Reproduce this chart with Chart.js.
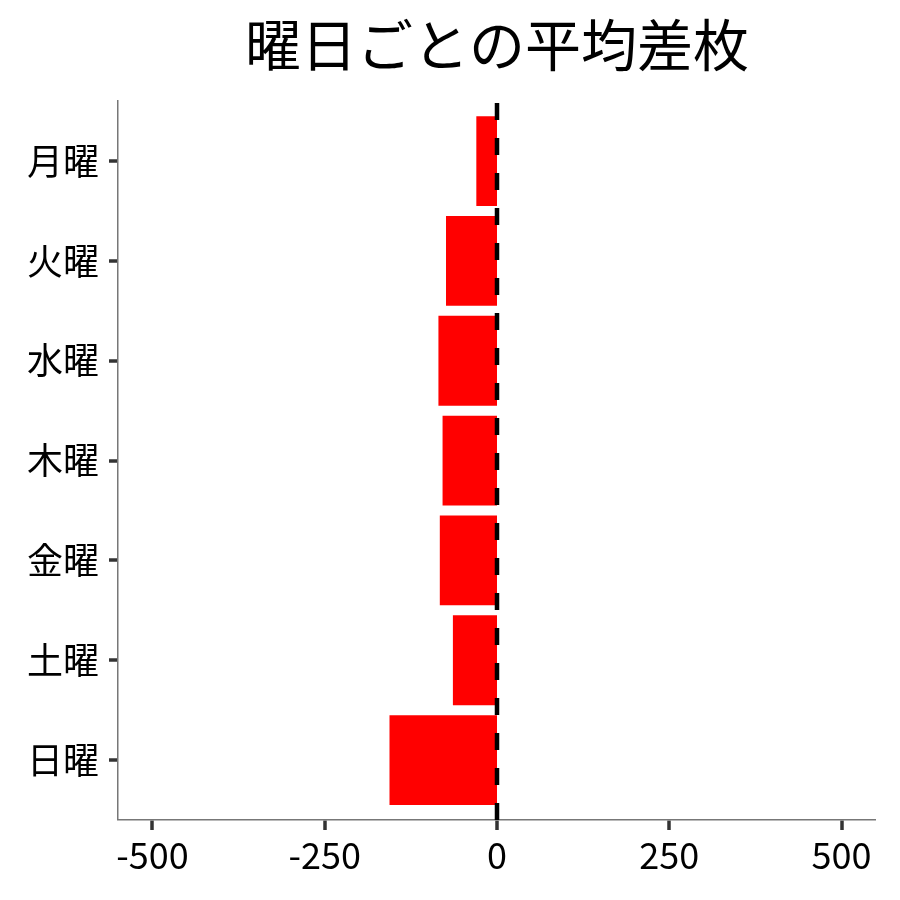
<!DOCTYPE html>
<html>
<head>
<meta charset="utf-8">
<script src="https://cdn.jsdelivr.net/npm/chart.js@4/dist/chart.umd.min.js"></script>
<style>
  html, body { margin: 0; padding: 0; background: #fff; }
  #wrap { width: 900px; height: 900px; }
</style>
</head>
<body>
<div id="wrap"><canvas id="chart" width="900" height="900"></canvas></div>
<script>
// データ
const days = ["月曜", "火曜", "水曜", "木曜", "金曜", "土曜", "日曜"];
const avgDiff = [-30, -74, -85, -79, -83, -64, -156];
const xTicks = [-500, -250, 0, 250, 500];

const FONT = "'Noto Sans CJK JP', 'Noto Sans', sans-serif";

// 0 の位置に破線を描く
const zeroLine = {
  id: "zeroLine",
  afterDatasetsDraw(chart) {
    const { ctx, chartArea, scales } = chart;
    const x = scales.x.getPixelForValue(0);
    ctx.save();
    ctx.strokeStyle = "#000";
    ctx.lineWidth = 4.5;
    ctx.setLineDash([17, 18]);
    ctx.beginPath();
    ctx.moveTo(x, chartArea.bottom);
    ctx.lineTo(x, chartArea.top);
    ctx.stroke();
    ctx.restore();
  }
};

new Chart(document.getElementById("chart"), {
  type: "bar",
  data: {
    datasets: [{
      data: avgDiff.map((v, i) => ({ x: v, y: i })),
      backgroundColor: "#ff0000",
      borderWidth: 0,
      barPercentage: 0.9,
      categoryPercentage: 1.0
    }]
  },
  options: {
    indexAxis: "y",
    responsive: false,
    animation: false,
    layout: { padding: { left: 0, right: 24, top: 0, bottom: 0 } },
    plugins: {
      legend: { display: false },
      tooltip: { enabled: false },
      title: {
        display: true,
        fullSize: false,
        text: "曜日ごとの平均差枚",
        color: "#000",
        font: { family: FONT, size: 56, weight: "normal" },
        padding: { top: 11, bottom: 23 }
      }
    },
    scales: {
      x: {
        type: "linear",
        min: -550,
        max: 550,
        offset: false,
        afterBuildTicks: (scale) => { scale.ticks = xTicks.map(v => ({ value: v })); },
        afterFit: (scale) => { scale.paddingRight = 0; scale.paddingLeft = 0; scale.height = 80; },
        ticks: {
          color: "#000",
          padding: 4,
          font: { family: FONT, size: 36 },
          callback: (v) => String(v)
        },
        grid: {
          offset: false,
          drawOnChartArea: false,
          drawTicks: true,
          lineWidth: 0, // 棒の根元をずらさないため
          tickLength: 10,
          tickWidth: 3.5,
          tickColor: "#333"
        },
        border: { display: true, color: "#777", width: 1.5 }
      },
      y: {
        type: "linear",
        reverse: true,
        offset: false,
        min: -0.6,
        max: 6.6,
        afterBuildTicks: (scale) => { scale.ticks = days.map((_, i) => ({ value: i })); },
        afterFit: (scale) => { scale.width = 118; },
        ticks: {
          color: "#000",
          padding: 10,
          font: { family: FONT, size: 36 },
          callback: (v) => days[v]
        },
        grid: {
          offset: false,
          drawOnChartArea: false,
          drawTicks: true,
          lineWidth: 0,
          tickLength: 9,
          tickWidth: 3.5,
          tickColor: "#333"
        },
        border: { display: true, color: "#777", width: 1.5 }
      }
    }
  },
  plugins: [zeroLine]
});
</script>
</body>
</html>
